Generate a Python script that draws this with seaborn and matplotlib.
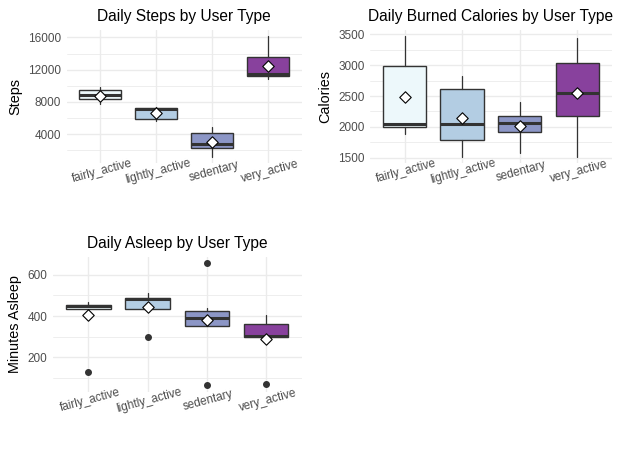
import matplotlib
matplotlib.use("Agg")
import matplotlib.pyplot as plt
from matplotlib.ticker import MultipleLocator
import pandas as pd
import seaborn as sns

USER_TYPES = ["fairly_active", "lightly_active", "sedentary", "very_active"]
PALETTE = ["#EDF8FB", "#B3CDE3", "#8C96C6", "#88419D"]

# box summaries: lower whisker, q1, median, q3, upper whisker
STEPS_WHISLO = [7690, 5650, 1110, 10870]
STEPS_Q1 = [8310, 5860, 2220, 11170]
STEPS_MED = [8850, 7050, 2730, 11450]
STEPS_Q3 = [9470, 7190, 4090, 13530]
STEPS_WHISHI = [9800, 7350, 4870, 16210]
STEPS_MEAN = [8760, 6570, 2970, 12480]
STEPS_OUTLIERS = [[], [], [], []]

CAL_WHISLO = [1884, 1516, 1581, 1516]
CAL_Q1 = [1993, 1782, 1912, 2171]
CAL_MED = [2046, 2046, 2067, 2554]
CAL_Q3 = [2991, 2609, 2181, 3030]
CAL_WHISHI = [3478, 2824, 2403, 3435]
CAL_MEAN = [2479, 2139, 2014, 2550]
CAL_OUTLIERS = [[], [], [], []]

SLEEP_WHISLO = [433, 433, 352, 299]
SLEEP_Q1 = [433, 433, 352, 299]
SLEEP_MED = [449, 483, 392, 302]
SLEEP_Q3 = [454, 486, 426, 360]
SLEEP_WHISHI = [467, 511, 438, 405]
SLEEP_MEAN = [405, 444, 380, 287]
SLEEP_OUTLIERS = [[129], [297], [658, 64], [69]]

W, H = 620, 454
GRID = "#EBEBEB"
DARK = "#333333"


def box_stats(lo, q1, med, q3, hi, fliers):
    return [
        {"whislo": a, "q1": b, "med": c, "q3": d, "whishi": e, "fliers": f}
        for a, b, c, d, e, f in zip(lo, q1, med, q3, hi, fliers)
    ]


def panel(fig, px, title, ylabel, stats, means, ylim, major, minor, label_x):
    x0, y0, x1, y1 = px
    ax = fig.add_axes([x0 / W, 1 - y1 / H, (x1 - x0) / W, (y1 - y0) / H])
    pos = list(range(len(USER_TYPES)))
    bp = ax.bxp(
        stats,
        positions=pos,
        widths=0.75,
        patch_artist=True,
        showcaps=False,
        boxprops=dict(edgecolor=DARK, linewidth=1.0),
        medianprops=dict(color=DARK, linewidth=2.2),
        whiskerprops=dict(color=DARK, linewidth=0.9),
        flierprops=dict(marker="o", markerfacecolor=DARK, markeredgecolor=DARK, markersize=4),
        zorder=3,
    )
    for patch, color in zip(bp["boxes"], PALETTE):
        patch.set_facecolor(color)

    mean_df = pd.DataFrame({"pos": pos, "mean": means})
    sns.scatterplot(
        data=mean_df, x="pos", y="mean", marker="D", s=34,
        color="white", edgecolor="black", linewidth=0.8, zorder=5, ax=ax, legend=False,
    )

    ax.set_xlim(-0.6, len(USER_TYPES) - 0.4)
    ax.set_ylim(*ylim)
    ax.set_xticks(pos)
    ax.set_xticklabels(USER_TYPES, rotation=15, ha="center", va="top", rotation_mode="anchor")
    ax.yaxis.set_major_locator(MultipleLocator(major))
    ax.yaxis.set_minor_locator(MultipleLocator(minor))
    ax.grid(True, which="major", color=GRID, linewidth=1.0)
    ax.grid(True, which="minor", axis="y", color=GRID, linewidth=0.6)
    ax.set_axisbelow(True)
    for sp in ax.spines.values():
        sp.set_visible(False)
    ax.tick_params(axis="both", which="both", length=0, labelsize=8.5, labelcolor="#4D4D4D")
    ax.tick_params(axis="y", pad=4)
    ax.tick_params(axis="x", pad=2)
    ax.set_xlabel("")
    ax.set_ylabel(ylabel, fontsize=10.4, color="black")
    ax.yaxis.set_label_coords(label_x, 0.5)
    ax.set_title(title, fontsize=11.2, color="black", pad=6.5)
    return ax


sns.set_theme(style="white")
plt.rcParams["font.family"] = ["Liberation Sans", "DejaVu Sans"]

fig = plt.figure(figsize=(W / 100, H / 100), dpi=100)
fig.patch.set_facecolor("white")

panel(
    fig, (66.7, 30, 301.7, 163), "Daily Steps by User Type", "Steps",
    box_stats(STEPS_WHISLO, STEPS_Q1, STEPS_MED, STEPS_Q3, STEPS_WHISHI, STEPS_OUTLIERS),
    STEPS_MEAN, (398, 16920), 4000, 2000, -0.19,
)
panel(
    fig, (370, 30, 611.7, 163), "Daily Burned Calories by User Type", "Calories",
    box_stats(CAL_WHISLO, CAL_Q1, CAL_MED, CAL_Q3, CAL_WHISHI, CAL_OUTLIERS),
    CAL_MEAN, (1414, 3570), 500, 250, -0.158,
)
panel(
    fig, (52.7, 256.7, 301.7, 391.5), "Daily Asleep by User Type", "Minutes Asleep",
    box_stats(SLEEP_WHISLO, SLEEP_Q1, SLEEP_MED, SLEEP_Q3, SLEEP_WHISHI, SLEEP_OUTLIERS),
    SLEEP_MEAN, (34, 688), 200, 100, -0.125,
)

fig.savefig("out.png", dpi=100, facecolor="white")
